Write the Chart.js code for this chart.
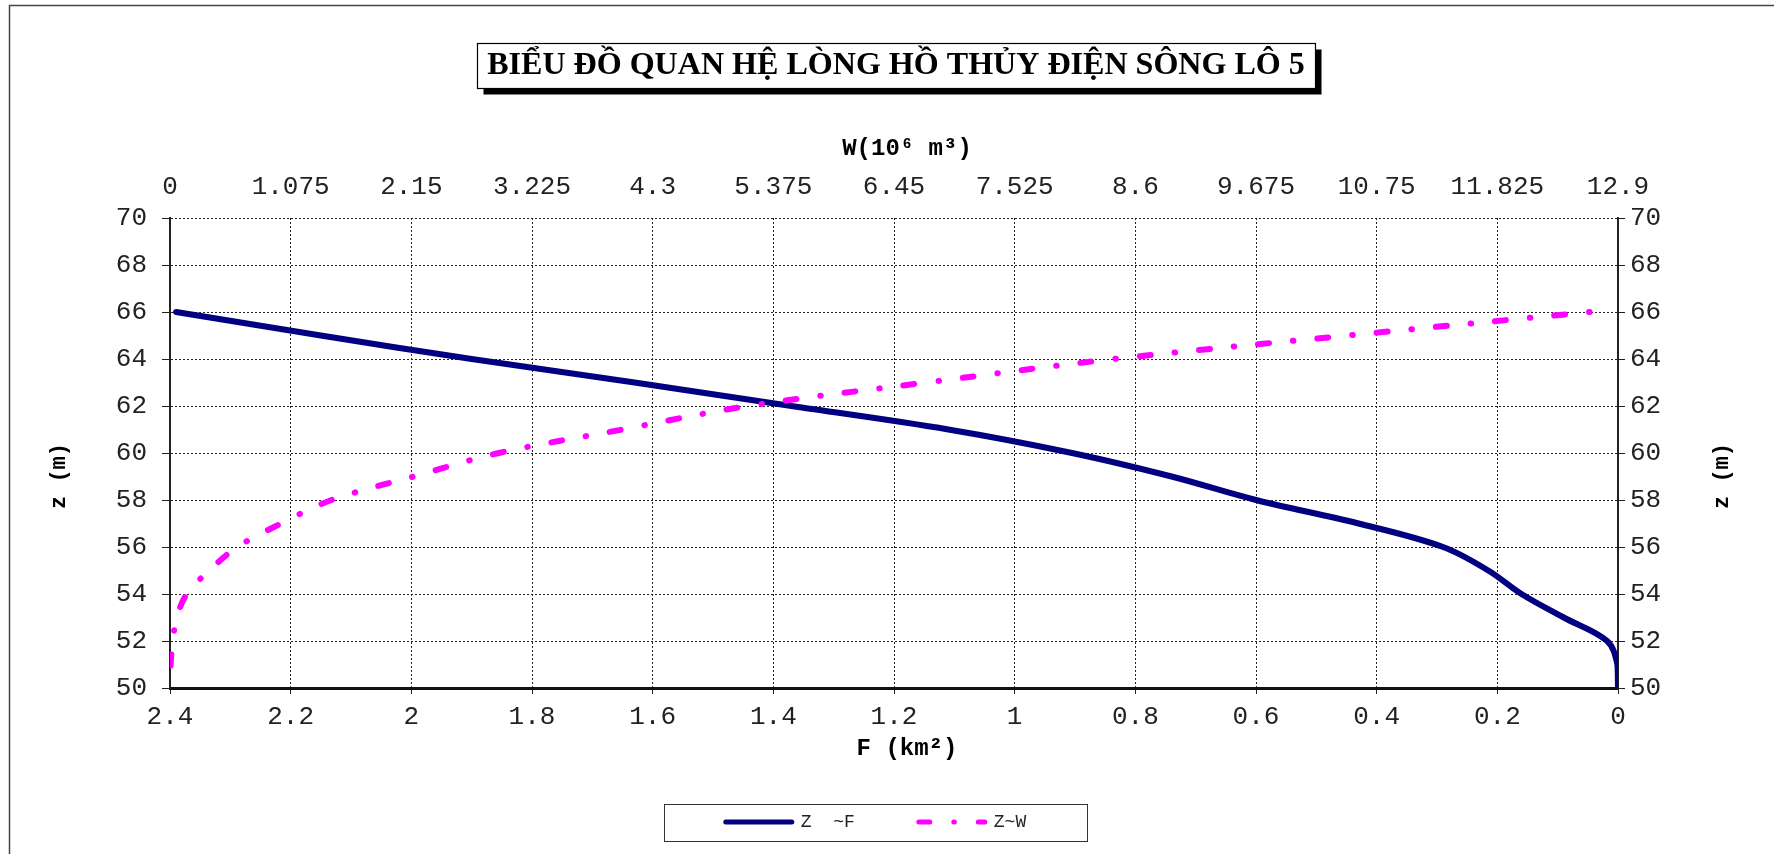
<!DOCTYPE html>
<html>
<head>
<meta charset="utf-8">
<script src="https://cdn.jsdelivr.net/npm/chart.js@4.4.1/dist/chart.umd.min.js"></script>
<style>
html,body{margin:0;padding:0;background:#fff;overflow:hidden}
canvas{display:block}
</style>
</head>
<body>
<canvas id="c" width="1774" height="854"></canvas>
<script>
// ---------- data ----------
const chartTitle = 'BIỂU ĐỒ QUAN HỆ LÒNG HỒ THỦY ĐIỆN SÔNG LÔ 5';
const zLevels = [50, 51, 52, 53, 54, 55, 56, 57, 58, 59, 60, 61, 62, 63, 64, 65, 66];
const areaF   = [0.000, 0.001, 0.018, 0.090, 0.160, 0.215, 0.290, 0.430, 0.600, 0.740, 0.905, 1.110, 1.370, 1.630, 1.900, 2.150, 2.390];
const volumeW = [0.000, 0.005, 0.025, 0.060, 0.150, 0.350, 0.600, 0.990, 1.440, 2.170, 2.930, 4.030, 5.150, 6.740, 8.410, 10.490, 12.650];
const fTicks = [2.4, 2.2, 2, 1.8, 1.6, 1.4, 1.2, 1, 0.8, 0.6, 0.4, 0.2, 0];
const wTicks = [0, 1.075, 2.15, 3.225, 4.3, 5.375, 6.45, 7.525, 8.6, 9.675, 10.75, 11.825, 12.9];
const zTicks = [50, 52, 54, 56, 58, 60, 62, 64, 66, 68, 70];
const seriesLabels = ['Z  ~F', 'Z~W'];
const titleW = 'W(10⁶ m³)';
const titleF = 'F (km²)';
const titleZ = 'z (m)';

// ---------- layout constants ----------
const PAD = {left: 20, right: 10, top: 10, bottom: 5};
const PLOT_LEFT = 170, PLOT_RIGHT = 1618, PLOT_TOP = 218, PLOT_BOTTOM = 688;
const MONO = '"Liberation Mono", "Courier New", monospace';
const SERIF = '"Liberation Serif", "Times New Roman", serif';

const mctx = document.createElement('canvas').getContext('2d');
mctx.font = 'bold 33px ' + SERIF;
const titleSize = Math.max(26, Math.min(40, 33 * 818 / mctx.measureText(chartTitle).width));
const titleLH = titleSize * 1.2;
const titlePadTop = 66 - PAD.top - titleLH / 2;
const titlePadBottom = 10;
const titleBlockBottom = PAD.top + titlePadTop + titleLH + titlePadBottom;
const topAxisH = PLOT_TOP - titleBlockBottom;
const legendReserved = 20;
const bottomAxisH = (854 - PAD.bottom - legendReserved) - PLOT_BOTTOM;
const legendPad = 64, legendFont = 18;

const tickFont = {family: MONO, size: 26};
const gridColor = '#222';

// dash pattern for Z~W, phased so the curve ends on a dot like the reference
const dashPattern = [11, 24, 0.5, 24];
const dashPeriod = dashPattern.reduce((a, b) => a + b, 0);
const wPathLen = (() => {
  let len = 0;
  for (let i = 1; i < zLevels.length; i++) {
    const dx = (volumeW[i] - volumeW[i - 1]) / 12.9 * (PLOT_RIGHT - PLOT_LEFT);
    const dy = (zLevels[i] - zLevels[i - 1]) / 20 * (PLOT_BOTTOM - PLOT_TOP);
    len += Math.hypot(dx, dy);
  }
  return len;
})();
const dashOffset = (((35.5 - wPathLen) % dashPeriod) + dashPeriod) % dashPeriod;

const decor = {
  id: 'decor',
  afterLayout(chart) {
    const tb = chart.titleBlock;
    if (tb) { tb.left += 4; tb.right += 4; }
    const lg = chart.legend;
    if (lg) {
      const dx = -16;
      lg.left += dx; lg.right += dx;
      const newTop = 822 - legendPad - legendFont / 2;
      lg.top = newTop; lg.bottom = 854; lg.height = lg.bottom - lg.top;
    }
  },
  beforeDraw(chart) {
    const ctx = chart.ctx;
    ctx.save();
    ctx.fillStyle = '#fff';
    ctx.fillRect(0, 0, chart.width, chart.height);
    ctx.strokeStyle = '#444';
    ctx.lineWidth = 1.5;
    ctx.strokeRect(9.5, 5.5, chart.width + 20, chart.height + 20);
    ctx.font = 'bold ' + titleSize + 'px ' + SERIF;
    const tw = ctx.measureText(chartTitle).width;
    const tb = chart.titleBlock;
    const cx = (tb.left + tb.right) / 2;
    const bx = Math.round(cx - tw / 2 - 10) + 0.5, bw = Math.round(tw + 20), by = 43.5, bh = 45;
    ctx.fillStyle = '#000';
    ctx.fillRect(bx + 6, by + 6, bw, bh);
    ctx.fillStyle = '#fff';
    ctx.fillRect(bx, by, bw, bh);
    ctx.strokeStyle = '#000';
    ctx.lineWidth = 1.2;
    ctx.strokeRect(bx, by, bw, bh);
    ctx.restore();
  },
  afterDraw(chart) {
    const ctx = chart.ctx;
    ctx.save();
    const hb = chart.legend && chart.legend.legendHitBoxes;
    if (hb && hb.length) {
      const first = hb[0], last = hb[hb.length - 1];
      const cy = first.top + first.height / 2;
      const l = Math.round(first.left - 62) + 0.5;
      const r = Math.round(last.left + last.width + 61) + 0.5;
      ctx.strokeStyle = '#333';
      ctx.lineWidth = 1;
      ctx.strokeRect(l, Math.round(cy - 18) + 0.5, r - l, 37);
    }
    ctx.fillStyle = '#000';
    ctx.font = 'bold 24px ' + MONO;
    ctx.textAlign = 'center';
    ctx.textBaseline = 'middle';
    ctx.fillText(titleW, 907, 149);
    ctx.fillText(titleF, 907, 749);
    ctx.font = 'bold 22px ' + MONO;
    [59, 1722].forEach(x => {
      ctx.save();
      ctx.translate(x, 476);
      ctx.rotate(-Math.PI / 2);
      ctx.fillText(titleZ, 0, 0);
      ctx.restore();
    });
    ctx.restore();
  }
};

const setTicks = arr => scale => { scale.ticks = arr.map(v => ({value: v})); };

new Chart(document.getElementById('c'), {
  type: 'line',
  data: {
    datasets: [
      {
        label: seriesLabels[0],
        data: zLevels.map((z, i) => ({x: areaF[i], y: z})),
        xAxisID: 'x', yAxisID: 'y',
        borderColor: '#000080', backgroundColor: '#000080',
        borderWidth: 6, pointRadius: 0, tension: 0.35, fill: false,
        borderCapStyle: 'round', borderJoinStyle: 'round', order: 2
      },
      {
        label: seriesLabels[1],
        data: zLevels.map((z, i) => ({x: volumeW[i], y: z})),
        xAxisID: 'x2', yAxisID: 'y',
        borderColor: '#FF00FF', backgroundColor: '#FF00FF',
        borderWidth: 6, pointRadius: 0, tension: 0.35, fill: false,
        borderDash: dashPattern, borderDashOffset: dashOffset,
        borderCapStyle: 'round', borderJoinStyle: 'round', order: 1
      }
    ]
  },
  options: {
    responsive: false,
    animation: false,
    devicePixelRatio: 1,
    layout: {padding: PAD},
    plugins: {
      tooltip: {enabled: false},
      title: {
        display: true, text: chartTitle, color: '#000',
        font: {family: SERIF, size: titleSize, weight: 'bold', lineHeight: 1.2},
        padding: {top: titlePadTop, bottom: titlePadBottom}
      },
      legend: {
        display: true, position: 'bottom', maxHeight: legendReserved,
        labels: {
          usePointStyle: true, pointStyle: 'line', pointStyleWidth: 66,
          font: {family: MONO, size: legendFont}, color: '#222',
          padding: legendPad,
          sort: (a, b) => a.datasetIndex - b.datasetIndex,
          generateLabels: chart => {
            const items = Chart.defaults.plugins.legend.labels.generateLabels(chart);
            items.forEach(it => {
              const ds = chart.data.datasets[it.datasetIndex];
              it.lineDash = ds.borderDash || [];
              it.lineDashOffset = 0;
              it.lineWidth = 5;
              it.lineCap = 'round';
              it.strokeStyle = ds.borderColor;
              it.fillStyle = ds.borderColor;
            });
            return items;
          }
        }
      }
    },
    scales: {
      x: {
        type: 'linear', position: 'bottom', reverse: true, min: 0, max: 2.4,
        afterBuildTicks: setTicks(fTicks),
        afterFit: s => { s.height = bottomAxisH; },
        ticks: {autoSkip: false, maxRotation: 0, padding: 7.4, font: tickFont, color: '#222', callback: v => String(v)},
        grid: {color: gridColor, lineWidth: 1, tickLength: 6, tickColor: '#222', tickBorderDash: [], tickWidth: 1},
        border: {display: true, color: '#111', width: 3, dash: [2, 2]}
      },
      x2: {
        type: 'linear', position: 'top', min: 0, max: 12.9,
        afterBuildTicks: setTicks(wTicks),
        afterFit: s => { s.height = topAxisH; },
        ticks: {autoSkip: false, maxRotation: 0, padding: 15.4, font: tickFont, color: '#222', callback: v => String(v)},
        grid: {display: true, drawOnChartArea: false, drawTicks: false},
        border: {display: false}
      },
      y: {
        type: 'linear', position: 'left', min: 50, max: 70,
        afterBuildTicks: setTicks(zTicks),
        afterFit: s => { s.width = PLOT_LEFT - PAD.left; },
        ticks: {autoSkip: false, padding: 15, font: tickFont, color: '#222', callback: v => String(v)},
        grid: {color: gridColor, lineWidth: 1, tickLength: 8, tickColor: '#222', tickBorderDash: [], tickWidth: 1},
        border: {display: true, color: '#222', width: 2, dash: [2, 2]}
      },
      y2: {
        type: 'linear', position: 'right', min: 50, max: 70,
        afterBuildTicks: setTicks(zTicks),
        afterFit: s => { s.width = 1774 - PAD.right - PLOT_RIGHT; },
        ticks: {autoSkip: false, padding: 5, font: tickFont, color: '#222', callback: v => String(v)},
        grid: {drawOnChartArea: false, tickLength: 7, tickColor: '#222', tickBorderDash: [], tickWidth: 1},
        border: {display: true, color: '#222', width: 2}
      }
    }
  },
  plugins: [decor]
});
</script>
</body>
</html>
